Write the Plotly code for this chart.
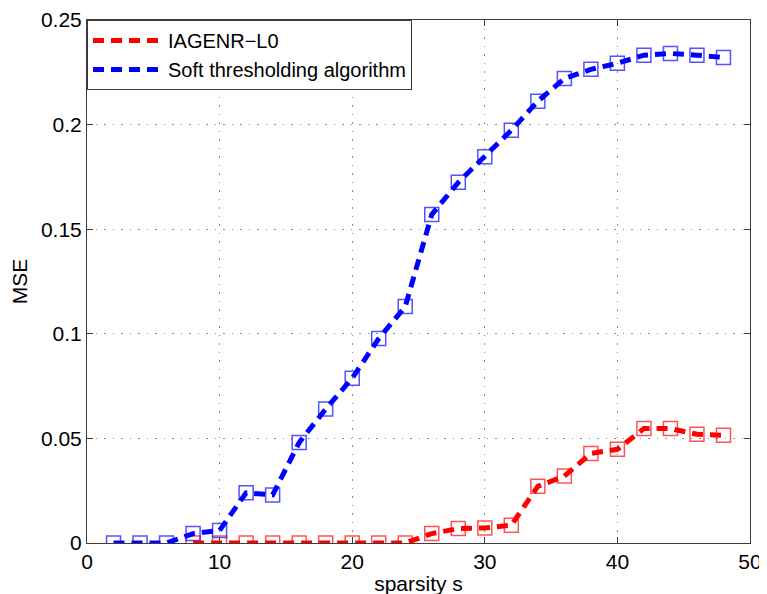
import plotly.graph_objects as go

sparsity = [2, 4, 6, 8, 10, 12, 14, 16, 18, 20, 22, 24, 26, 28, 30, 32, 34, 36, 38, 40, 42, 44, 46, 48]
soft_mse = [0.0, 0.0, 0.0, 0.0045, 0.006, 0.024, 0.023, 0.048, 0.064, 0.0788, 0.0977, 0.113,
            0.157, 0.1724, 0.1846, 0.1973, 0.2112, 0.222, 0.2264, 0.2293, 0.2332, 0.234, 0.2332, 0.2321]
iag_x = [8, 10, 12, 14, 16, 18, 20, 22, 24, 26, 28, 30, 32, 34, 36, 38, 40, 42, 44, 46, 48]
iag_mse = [0.0, 0.0, 0.0, 0.0, 0.0, 0.0, 0.0, 0.0, 0.0, 0.0045, 0.0069, 0.0072, 0.0085, 0.0271,
           0.032, 0.0428, 0.0448, 0.0547, 0.0547, 0.052, 0.0515]

x_ticks = [0, 10, 20, 30, 40, 50]
y_ticks = [0, 0.05, 0.1, 0.15, 0.2, 0.25]
y_tick_text = ["0", "0.05", "0.1", "0.15", "0.2", "0.25"]

font = "Liberation Sans, Arial, sans-serif"
RED = "rgb(255,0,0)"
BLUE = "rgb(0,0,255)"
FS = 21

fig = go.Figure()
fig.add_trace(go.Scatter(x=iag_x, y=iag_mse, mode="markers", showlegend=False,
                         marker=dict(symbol="square-open", size=14, color="rgba(255,40,40,0.8)",
                                     line=dict(width=1.5))))
fig.add_trace(go.Scatter(x=sparsity, y=soft_mse, mode="markers", showlegend=False,
                         marker=dict(symbol="square-open", size=14, color="rgba(40,40,255,0.8)",
                                     line=dict(width=1.5))))
fig.add_trace(go.Scatter(x=iag_x, y=iag_mse, mode="lines", name="IAGENR\u2212L0",
                         line=dict(color=RED, width=5, dash="11px,7px")))
fig.add_trace(go.Scatter(x=sparsity, y=soft_mse, mode="lines", name="Soft thresholding algorithm",
                         line=dict(color=BLUE, width=5, dash="11px,7px")))

axis_common = dict(showline=True, linecolor="#3c3c3c", linewidth=1, mirror="ticks",
                   ticks="inside", ticklen=6, tickcolor="#3c3c3c",
                   showgrid=True, gridcolor="#8a8a8a", griddash="1.5px,7px", gridwidth=1.2,
                   zeroline=False, automargin=False,
                   tickfont=dict(family=font, size=FS, color="black"))

fig.update_xaxes(range=[0, 50], tickvals=x_ticks, title=dict(text="sparsity s", standoff=4,
                 font=dict(family=font, size=FS, color="black")), **axis_common)
fig.update_yaxes(range=[0, 0.25], tickvals=y_ticks, ticktext=y_tick_text,
                 title=dict(text="MSE", standoff=14, font=dict(family=font, size=FS, color="black")),
                 **axis_common)

# The page body has an 8px margin, so the figure is laid out 8px right and down.
fig.update_layout(
    width=767, height=594,
    margin=dict(l=79, r=25, t=12, b=59),
    plot_bgcolor="white", paper_bgcolor="white",
    font=dict(family=font, size=FS, color="black"),
    legend=dict(x=0, y=1, xanchor="left", yanchor="top", bgcolor="white",
                bordercolor="#3c3c3c", borderwidth=1, font=dict(family=font, size=20),
                tracegroupgap=0, itemwidth=70),
)

fig.write_html("out.html")
